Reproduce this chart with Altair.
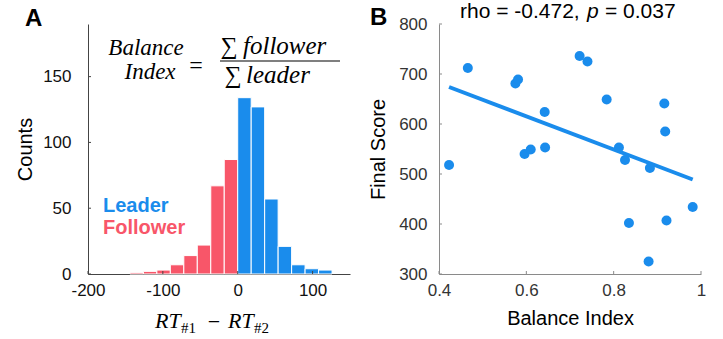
import altair as alt
import pandas as pd

BLUE = "#1a8cec"
RED = "#f85669"

# ---------------- Panel A: histogram of RT#1 - RT#2 ----------------
bin_start = [-144, -126, -108, -90, -72, -54, -36, -18, 0, 18, 36, 54, 72, 90, 108]
counts = [1, 2, 3, 7, 14, 22, 67, 87, 134, 127, 57, 21, 7, 4, 3]
groups = ["Follower"] * 8 + ["Leader"] * 7
bin_width = 18

legend_labels = ["Leader", "Follower"]
legend_x = [-180, -180]
legend_y = [52, 35]

x_ticks_a = [-200, -100, 0, 100]
y_ticks_a = [0, 50, 100, 150]

# ---------------- Panel B: scatter ----------------
balance_index = [0.423, 0.466, 0.575, 0.581, 0.596, 0.610, 0.642, 0.643, 0.722, 0.740,
                 0.784, 0.812, 0.826, 0.835, 0.883, 0.880, 0.916, 0.918, 0.921, 0.981]
final_score = [518, 712, 681, 689, 540, 549, 624, 553, 736, 725,
               649, 553, 528, 402, 512, 325, 641, 585, 407, 434]
fit_x = [0.423, 0.981]
fit_y = [674, 489]

x_ticks_b = [0.4, 0.6, 0.8, 1.0]
y_ticks_b = [300, 400, 500, 600, 700, 800]

W, H = 262, 250
TICK = 3
SANS = "Liberation Sans"
SERIF = "Liberation Serif"

hist_df = pd.DataFrame({"start": bin_start, "count": counts, "group": groups})
hist_df["end"] = hist_df["start"] + bin_width

color_scale = alt.Scale(domain=["Leader", "Follower"], range=[BLUE, RED])

x_a = alt.X("start:Q",
            scale=alt.Scale(domain=[-200, 150], nice=False, zero=False),
            axis=alt.Axis(values=x_ticks_a, title=None, grid=False, ticks=False,
                          domainColor="#444", labelFont=SANS, labelFontSize=17,
                          labelColor="#111", labelPadding=8, labelFlush=False,
                          labelExpr="'' + datum.value"))
y_a = alt.Y("count:Q",
            scale=alt.Scale(domain=[0, 190], nice=False),
            axis=alt.Axis(values=y_ticks_a, title="Counts", grid=False, ticks=False,
                          domainColor="#444", labelFont=SANS, labelFontSize=17,
                          labelColor="#111", labelPadding=17, titleFont=SANS,
                          titleFontSize=20, titleFontWeight="normal", titleColor="#000",
                          titlePadding=7))

bars = alt.Chart(hist_df).mark_bar(stroke="white", strokeWidth=1).encode(
    x=x_a, x2="end:Q", y=y_a, y2=alt.datum(0),
    color=alt.Color("group:N", scale=color_scale, legend=None))

# inward ticks (MATLAB style)
xt_a = alt.Chart(pd.DataFrame({"v": x_ticks_a})).mark_rule(color="#444").encode(
    x="v:Q", y=alt.value(H), y2=alt.value(H - TICK))
yt_a = alt.Chart(pd.DataFrame({"v": y_ticks_a})).mark_rule(color="#444").encode(
    y="v:Q", x=alt.value(0), x2=alt.value(TICK))

leg_df = pd.DataFrame({"label": legend_labels, "lx": legend_x, "ly": legend_y})
legend_text = alt.Chart(leg_df).mark_text(
    align="left", baseline="middle", font=SANS, fontSize=20, fontWeight="bold").encode(
    x="lx:Q", y="ly:Q", text="label:N",
    color=alt.Color("label:N", scale=color_scale, legend=None))


def txt(s, x, y, size, font=SERIF, style="normal", weight="normal", align="left",
        baseline="alphabetic", color="#000"):
    return alt.Chart(pd.DataFrame({"t": [s]})).mark_text(
        align=align, baseline=baseline, font=font, fontSize=size, fontStyle=style,
        fontWeight=weight, color=color).encode(
        text="t:N", x=alt.value(x), y=alt.value(y))


formula = [
    txt("Balance", 58, 31, 23, style="italic", align="center"),
    txt("Index", 62, 55, 23, style="italic", align="center"),
    txt("=", 108, 42, 24, align="center", baseline="middle"),
    txt("\u2211", 141, 30, 24, align="center"),
    txt("follower", 155, 30, 25, style="italic"),
    txt("\u2211", 145, 59, 24, align="center"),
    txt("leader", 158, 59, 25, style="italic"),
]
frac_line = alt.Chart(pd.DataFrame({"t": [0]})).mark_rule(color="#000", strokeWidth=1.2).encode(
    x=alt.value(132), x2=alt.value(252), y=alt.value(37))

xtitle_a = [
    txt("RT", 67, 304, 22, style="italic"),
    txt("#1", 93, 309, 15),
    txt("\u2212", 126, 298, 22, align="center", baseline="middle"),
    txt("RT", 140, 304, 22, style="italic"),
    txt("#2", 166, 309, 15),
]
label_a = txt("A", -63, 2, 24, font=SANS, weight="bold")

panel_a = alt.layer(bars, xt_a, yt_a, legend_text, frac_line, *formula, *xtitle_a,
                    label_a).properties(width=W, height=H)

# ---------------- Panel B ----------------
sc_df = pd.DataFrame({"bi": balance_index, "fs": final_score})
fit_df = pd.DataFrame({"bi": fit_x, "fs": fit_y})

x_b = alt.X("bi:Q",
            scale=alt.Scale(domain=[0.4, 1.0], nice=False, zero=False),
            axis=alt.Axis(values=x_ticks_b, format="~g", title="Balance Index", grid=False,
                          ticks=False, domainColor="#8a8a8a", labelFont=SANS,
                          labelFontSize=17, labelColor="#333", labelPadding=8,
                          labelFlush=False, titleFont=SANS, titleFontSize=20,
                          titleFontWeight="normal", titleColor="#000", titlePadding=10))
y_b = alt.Y("fs:Q",
            scale=alt.Scale(domain=[300, 800], nice=False, zero=False),
            axis=alt.Axis(values=y_ticks_b, title="Final Score", grid=False, ticks=False,
                          domainColor="#8a8a8a", labelFont=SANS, labelFontSize=17,
                          labelColor="#333", labelPadding=12, titleFont=SANS,
                          titleFontSize=20, titleFontWeight="normal", titleColor="#000",
                          titlePadding=10))

xt_b = alt.Chart(pd.DataFrame({"v": x_ticks_b})).mark_rule(color="#8a8a8a").encode(
    x="v:Q", y=alt.value(H), y2=alt.value(H - TICK))
yt_b = alt.Chart(pd.DataFrame({"v": y_ticks_b})).mark_rule(color="#8a8a8a").encode(
    y="v:Q", x=alt.value(0), x2=alt.value(TICK))

points = alt.Chart(sc_df).mark_circle(size=100, opacity=1, color=BLUE).encode(x=x_b, y=y_b)
fit = alt.Chart(fit_df).mark_line(color=BLUE, strokeWidth=4).encode(x="bi:Q", y="fs:Q")

title_b = [
    txt("rho = -0.472,", 21, -6, 21, font=SANS),
    txt("p", 148, -6, 21, font=SANS, style="italic"),
    txt("= 0.037", 166, -6, 21, font=SANS),
]
label_b = txt("B", -69, 1, 24, font=SANS, weight="bold")

panel_b = alt.layer(fit, points, xt_b, yt_b, *title_b, label_b).properties(width=W, height=H)

chart = alt.hconcat(panel_a, panel_b, spacing=89, bounds="flush").configure_view(
    stroke=None).properties(padding={"left": 15, "top": 1, "right": 5, "bottom": 2})

chart.save("out.html", embed_options={"renderer": "svg", "actions": False})
